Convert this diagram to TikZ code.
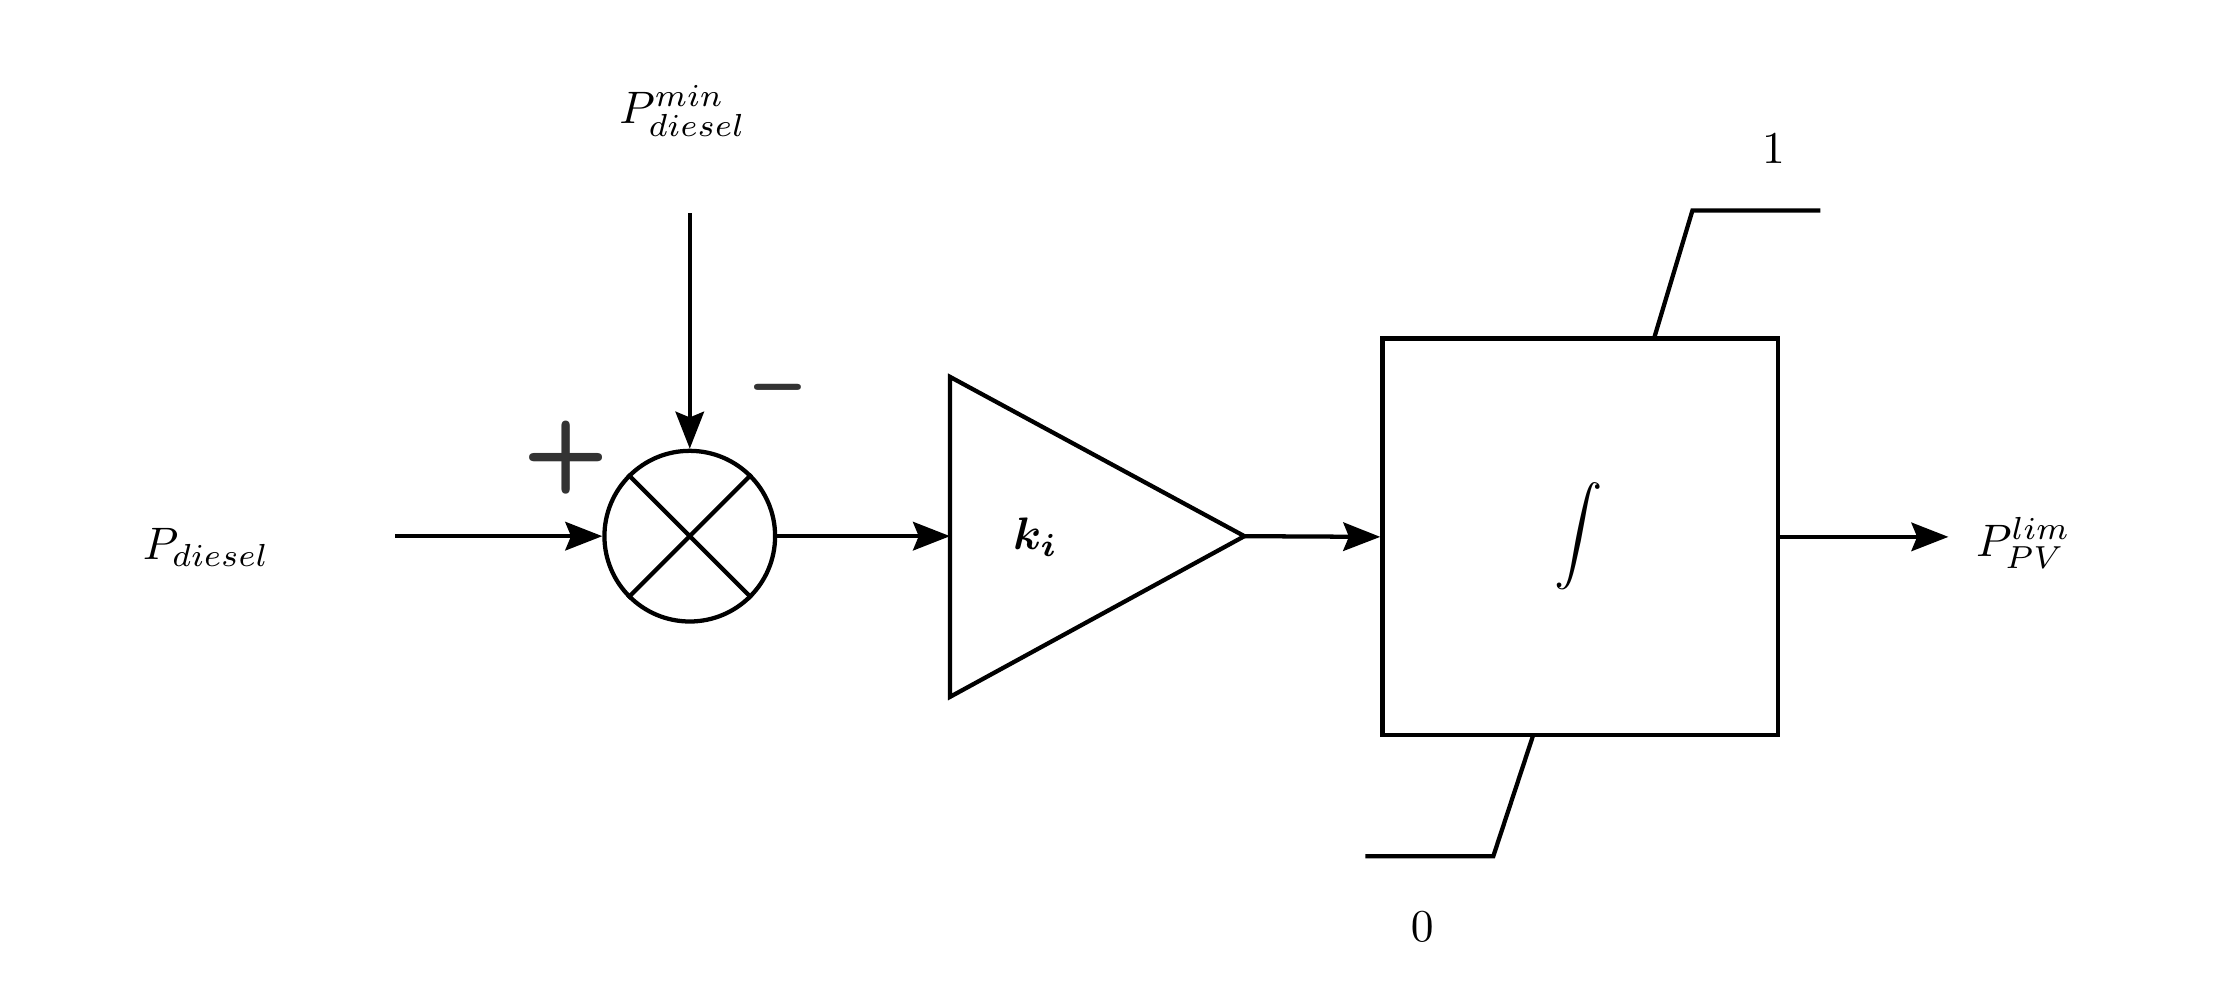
\documentclass[tikz,border=0pt]{standalone}
\usepackage{amsmath,bm,graphicx}
\usetikzlibrary{arrows.meta}
\begin{document}
\begin{tikzpicture}[x=1pt,y=-1pt,line width=3pt,
  arr/.style={-{Stealth[length=26pt,width=20pt,inset=4pt]}},
  lbl/.style={inner sep=0pt}]
\useasboundingbox (0,0) rectangle (1568,692);
\node[lbl] (pd) at (145,385) {\scalebox{3.2}{$P_{diesel}$}};
\node[lbl] (pmin) at (480,78) {\scalebox{3.2}{$P^{min}_{diesel}$}};
\node[draw,circle,minimum size=120pt,inner sep=0pt] (sum) at (485,377) {};
\draw (sum.north west) -- (sum.south east) (sum.north east) -- (sum.south west);
\coordinate (pdin) at (278,377);
\coordinate (pmintop) at (485,150);
\draw[arr] (pdin) -- (sum.west);
\draw[arr] (pmintop) -- (sum.north);
\node[font=\fontsize{70}{70}\sffamily\bfseries,text=black!80] (plus) at (398,322) {+};
\node[font=\fontsize{60}{60}\sffamily\bfseries,text=black!80] (minus) at (547,280) {\textendash};
\coordinate (t1) at (668,265); \coordinate (t2) at (668,490); \coordinate (t3) at (875,377);
\draw[line join=miter] (t1) -- (t2) -- (t3) -- cycle;
\coordinate (tin) at (668,377);
\node[lbl] (ki) at (728,378) {\scalebox{3.2}{$\bm{k_i}$}};
\draw[arr] (sum.east) -- (tin);
\node[draw,minimum width=278pt,minimum height=279pt,inner sep=0pt] (int) at (1111,377.5) {};
\node[lbl] (intsym) at (1110,377) {\scalebox{3.4}{$\displaystyle\int$}};
\draw[arr] (t3) -- (int.west);
\coordinate (u1) at (1163,238); \coordinate (u2) at (1190,148); \coordinate (u3) at (1280,148);
\draw (u1) -- (u2) -- (u3);
\node[lbl] (one) at (1247,105) {\scalebox{3.2}{$1$}};
\coordinate (l1) at (1078,517); \coordinate (l2) at (1050,602); \coordinate (l3) at (960,602);
\draw (l1) -- (l2) -- (l3);
\node[lbl] (zero) at (1000,652) {\scalebox{3.2}{$0$}};
\node[lbl,anchor=west] (plim) at (1388,382) {\scalebox{3.2}{$P^{lim}_{PV}$}};
\coordinate (pout) at (1370,377.5);
\draw[arr] (int.east) -- (pout);
\end{tikzpicture}
\end{document}
